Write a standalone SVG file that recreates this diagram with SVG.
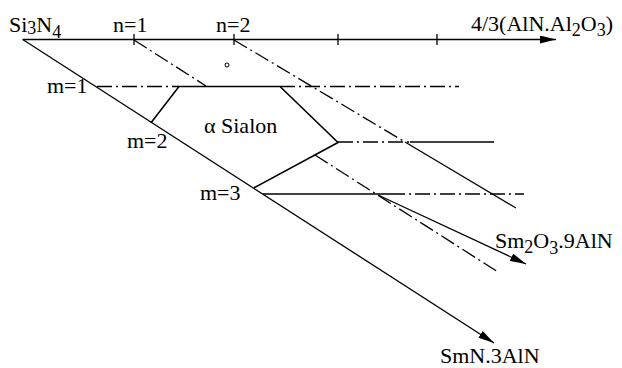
<svg xmlns="http://www.w3.org/2000/svg" width="622" height="368" viewBox="0 0 622 368">
<style>
  .t { font-family: "Liberation Serif", "Times New Roman", serif; font-size: 22px; fill: #000; }
  .s { font-size: 18px; }
  .ln { stroke: #000; stroke-width: 1.3; fill: none; }
  .dd { stroke: #000; stroke-width: 1.3; fill: none; stroke-dasharray: 15 4 2 4; }
  .ed { stroke: #000; stroke-width: 1.6; fill: none; }
</style>
<defs>
  <marker id="ah" markerUnits="userSpaceOnUse" markerWidth="17" markerHeight="8" refX="16" refY="4" orient="auto">
    <path d="M0,0 L16,4 L0,8 z" fill="#000"/>
  </marker>
</defs>
<rect width="622" height="368" fill="#fff"/>
<g id="connectors">
  <line class="ln" x1="22.7" y1="39.5" x2="556" y2="39.5" marker-end="url(#ah)"/>
  <line class="ln" x1="134" y1="34" x2="134" y2="45"/>
  <line class="ln" x1="234" y1="34" x2="234" y2="45"/>
  <line class="ln" x1="338" y1="34" x2="338" y2="45"/>
  <line class="ln" x1="437" y1="34" x2="437" y2="45"/>
  <line class="ln" x1="22.7" y1="39.5" x2="494" y2="343" marker-end="url(#ah)"/>
  <line class="ln" x1="378" y1="195" x2="526" y2="264" marker-end="url(#ah)"/>
  <line class="dd" x1="97" y1="86.5" x2="179" y2="86.5"/>
  <line class="dd" x1="280" y1="86.5" x2="459" y2="86.5"/>
  <line class="dd" x1="338" y1="142" x2="410" y2="142"/>
  <line class="ln" x1="410" y1="142" x2="494" y2="142"/>
  <line class="ln" x1="263" y1="194" x2="390" y2="194"/>
  <line class="dd" x1="390" y1="194" x2="524" y2="194"/>
  <line class="dd" x1="134" y1="40" x2="206" y2="86"/>
  <line class="dd" x1="315" y1="155" x2="498" y2="272"/>
  <line class="dd" x1="234" y1="40" x2="405" y2="142"/>
  <line class="ln" x1="405" y1="142" x2="516" y2="208"/>
</g>
<g id="alpha-sialon">
  <polyline class="ed" points="151,122.8 179,86.5 280,86.5 338,142.5 254,187.8"/>
  <text class="t" x="204" y="133" font-family="Liberation Serif, serif">α Sialon</text>
</g>
<g id="si3n4"><text class="t" x="9" y="32" font-family="Liberation Serif, serif">Si<tspan class="s" dy="2">3</tspan><tspan dy="-2">N</tspan><tspan class="s" dy="6">4</tspan></text></g>
<g id="n1"><text class="t" x="113" y="32" font-family="Liberation Serif, serif">n=1</text></g>
<g id="n2"><text class="t" x="216" y="32" font-family="Liberation Serif, serif">n=2</text></g>
<g id="axis-end"><text class="t" x="471" y="31" font-family="Liberation Serif, serif">4/3(AlN.Al<tspan class="s" dy="5">2</tspan><tspan dy="-5">O</tspan><tspan class="s" dy="5">3</tspan><tspan dy="-5">)</tspan></text></g>
<g id="mark"><circle cx="227" cy="65" r="2" fill="none" stroke="#000" stroke-width="1"/></g>
<g id="m1"><text class="t" x="47" y="93" font-family="Liberation Serif, serif">m=1</text></g>
<g id="m2"><text class="t" x="127" y="148" font-family="Liberation Serif, serif">m=2</text></g>
<g id="m3"><text class="t" x="200" y="200" font-family="Liberation Serif, serif">m=3</text></g>
<g id="sm2o3"><text class="t" x="495" y="248" font-family="Liberation Serif, serif">Sm<tspan class="s" dy="5">2</tspan><tspan dy="-5">O</tspan><tspan class="s" dy="6">3</tspan><tspan dy="-6">.9AlN</tspan></text></g>
<g id="smn"><text class="t" x="440" y="363" font-family="Liberation Serif, serif">SmN.3AlN</text></g>
</svg>
